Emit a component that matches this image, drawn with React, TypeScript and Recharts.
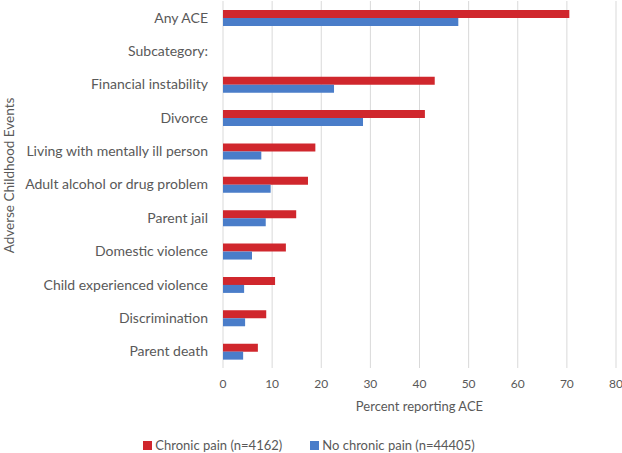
import { BarChart, Bar, XAxis, YAxis, CartesianGrid, Legend } from "recharts";

const categories = [
  "Any ACE",
  "Subcategory:",
  "Financial instability",
  "Divorce",
  "Living with mentally ill person",
  "Adult alcohol or drug problem",
  "Parent jail",
  "Domestic violence",
  "Child experienced violence",
  "Discrimination",
  "Parent death",
];
const chronicPain = [70.5, null, 43.1, 41.1, 18.8, 17.3, 14.9, 12.8, 10.6, 8.8, 7.1];
const noChronicPain = [47.9, null, 22.6, 28.5, 7.8, 9.7, 8.7, 5.9, 4.3, 4.5, 4.1];
const xTicks = [0, 10, 20, 30, 40, 50, 60, 70, 80];

const RED = "#d0272d";
const BLUE = "#4a7dc9";
const TEXT = "#595959";
const FONT = "Lato, 'Open Sans', sans-serif";

const data = categories.map((name, i) => ({
  name,
  chronic: chronicPain[i],
  noChronic: noChronicPain[i],
}));

function LegendBox() {
  const items = [
    { label: "Chronic pain (n=4162)", color: RED },
    { label: "No chronic pain (n=44405)", color: BLUE },
  ];
  return (
    <div
      style={{
        display: "flex",
        justifyContent: "center",
        gap: 28,
        paddingTop: 19,
        paddingLeft: 2,
        fontSize: 13,
        lineHeight: "18px",
        color: TEXT,
        fontFamily: FONT,
      }}
    >
      {items.map((it) => (
        <span key={it.label} style={{ display: "flex", alignItems: "center", gap: 3 }}>
          <span style={{ width: 9, height: 9, background: it.color, display: "inline-block" }} />
          {it.label}
        </span>
      ))}
    </div>
  );
}

// rotated y-axis title, drawn next to the left edge
function YTitle({ viewBox }: any) {
  const cy = viewBox.y + viewBox.height / 2 - 9;
  return (
    <text
      transform={`translate(9, ${cy}) rotate(-90)`}
      textAnchor="middle"
      dominantBaseline="central"
      fill={TEXT}
      fontSize={13.5}
    >
      Adverse Childhood Events
    </text>
  );
}

export default function App() {
  return (
    <div style={{ position: "absolute", left: 0, top: 0, background: "#fff" }}>
      <BarChart
        width={622}
        height={453}
        data={data}
        layout="vertical"
        margin={{ top: 1, right: 6, left: 0, bottom: 0 }}
        barSize={8}
        barGap={0}
        style={{ fontFamily: FONT }}
      >
        <CartesianGrid horizontal={false} stroke="#d9d9d9" />
        <XAxis
          type="number"
          domain={[0, 80]}
          ticks={xTicks}
          axisLine={false}
          tickLine={false}
          tickSize={0}
          tickMargin={11}
          height={49}
          tick={{ fill: TEXT, fontSize: 12 }}
          label={{ value: "Percent reporting ACE", position: "insideBottom", offset: 6, fill: TEXT, fontSize: 13 }}
        />
        <YAxis
          type="category"
          dataKey="name"
          width={223}
          axisLine={false}
          tickLine={false}
          tickSize={0}
          tickMargin={15}
          interval={0}
          tick={{ fill: TEXT, fontSize: 14 }}
          label={{ content: YTitle }}
        />
        <Legend verticalAlign="bottom" height={36} content={<LegendBox />} />
        <Bar dataKey="chronic" fill={RED} isAnimationActive={false} />
        <Bar dataKey="noChronic" fill={BLUE} isAnimationActive={false} />
      </BarChart>
    </div>
  );
}
